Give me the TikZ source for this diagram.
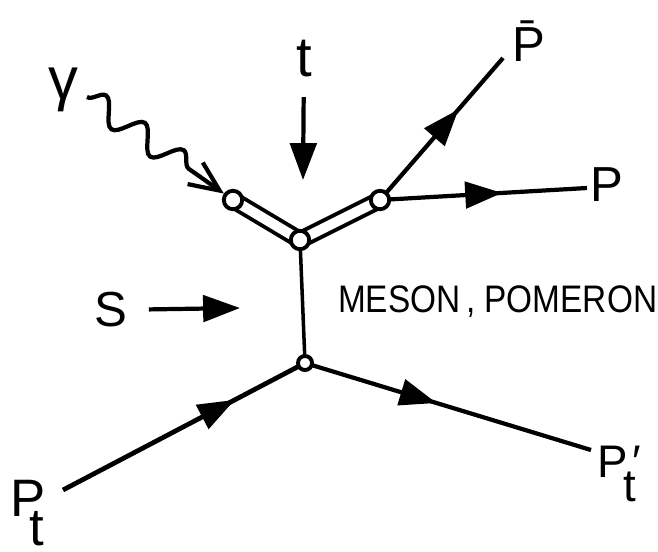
\documentclass[tikz,border=0pt]{standalone}
\usepackage{fontspec}
\setmainfont{Liberation Sans}
\usetikzlibrary{arrows.meta, backgrounds, decorations.pathmorphing, decorations.markings}

\begin{document}
\begin{tikzpicture}[x=0.02cm, y=-0.02cm, line width=2.4pt, >={Triangle[length=21pt, width=15pt]},
    vtx/.style={circle, draw, fill=white, line width=2.2pt, inner sep=0pt, minimum size=10.5pt},
    lbl/.style={inner sep=0pt, font=\fontsize{28}{30}\selectfont},
    leg/.style={line width=2.4pt},
    dbl/.style={double, double distance=5.7pt, line width=2.2pt},
    midarrow/.style={postaction={decorate}, decoration={markings, mark=at position #1 with {\arrow{>}}}},
    photon/.style={decorate, decoration={snake, amplitude=7pt, segment length=27pt, post length=22pt}}]
    \useasboundingbox (0,0) rectangle (658,551);
    % vertices
    \node[vtx] (v1) at (233,200) {};
    \node[vtx] (v2) at (300,240) {};
    \node[vtx] (v3) at (380,200) {};
    \node[vtx, minimum size=8pt] (v4) at (305,363) {};
    % labels
    \node[lbl, font=\fontsize{34}{36}\selectfont] (g) at (63,90) {γ};
    \node[lbl, font=\fontsize{32}{34}\selectfont] (t) at (304,59) {t};
    \node[lbl] (pbar) at (529,41) {\={P}};
    \node[lbl] (p) at (607,185) {P};
    \node[lbl] (s) at (111,310) {S};
    \node[lbl, font=\fontsize{19}{20}\selectfont, anchor=west] (meson) at (336,302) {\scalebox{1}[1.15]{MESON\,, POMERON}};
    \node[lbl, font=\fontsize{30}{32}\selectfont] (pt) at (27,513) {P\kern-0.3em\raisebox{-0.55em}{t}};
    \node[lbl, font=\fontsize{26}{28}\selectfont] (ptp) at (619,474) {P\kern-0.1em\makebox[0pt][l]{\raisebox{-0.53em}{t}}\kern0.2em′};
    % free ends
    \coordinate (g0) at (87,97);
    \coordinate (tTip) at (303,180);
    \coordinate (sTip) at (240,308);
    \coordinate (pbarEnd) at (503,58);
    \coordinate (pEnd) at (587,188);
    \coordinate (pt0) at (63,490);
    \coordinate (ptpEnd) at (591,450);
    % propagators
    \begin{scope}[on background layer]
        \draw[dbl] (v1.center) -- (v2.center);
        \draw[dbl] (v2.center) -- (v3.center);
        \draw[leg, line width=2pt] (v2.center) -- (v4.center);
        \draw[leg, midarrow=0.64] (v3.center) -- (pbarEnd);
        \draw[leg, midarrow=0.59] (v3.center) -- (pEnd);
        \draw[leg, line width=2.7pt, midarrow=0.71] (pt0) -- (v4.center);
        \draw[leg, midarrow=0.46] (v4.center) -- (ptpEnd);
    \end{scope}
    \draw[photon, -{Straight Barb[length=17pt, width=15pt]}] (g0) -- (v1);
    \draw[->, shorten <=10pt] (t) -- (tTip);
    \draw[->, shorten <=11pt] (s) -- (sTip);
\end{tikzpicture}
\end{document}
